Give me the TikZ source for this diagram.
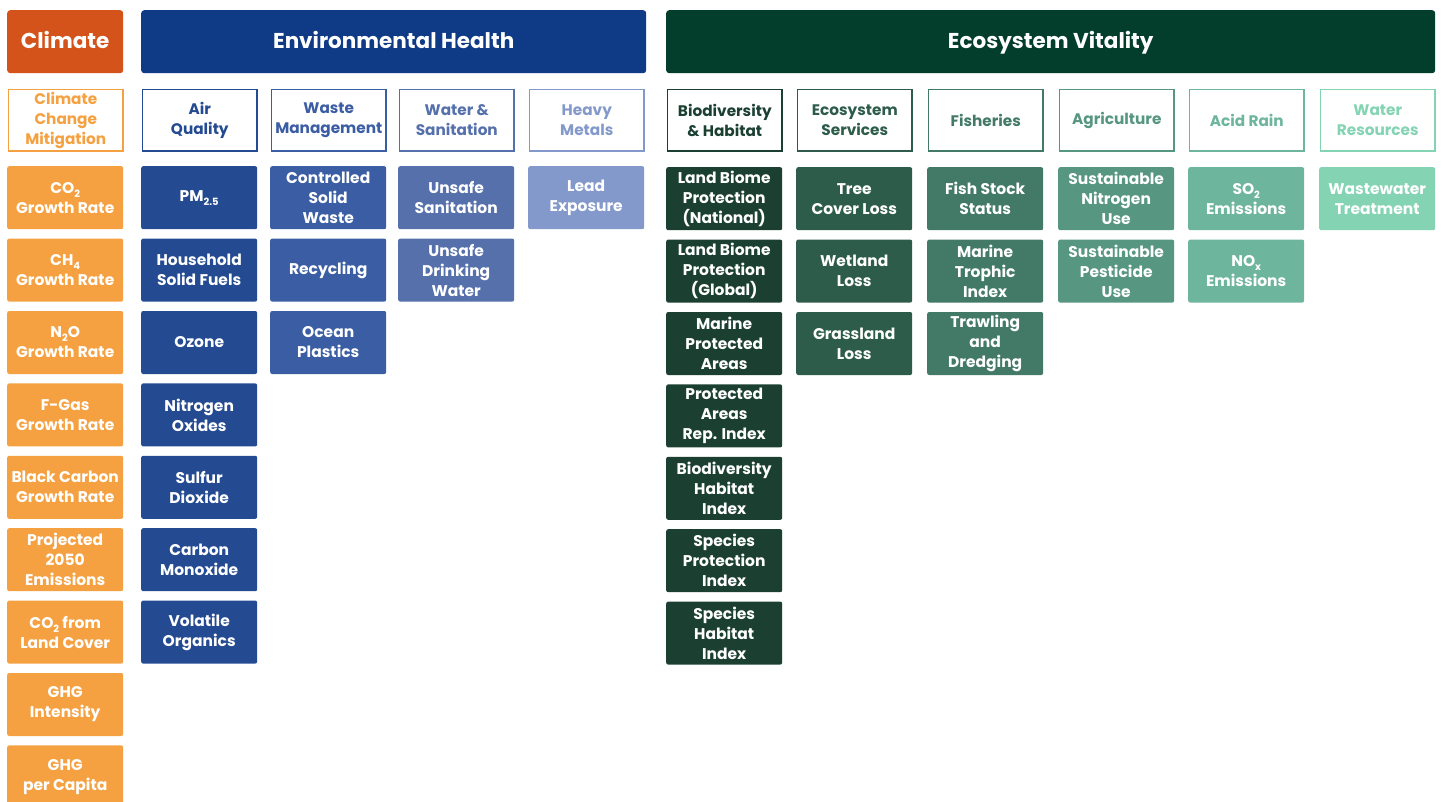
\documentclass[tikz,border=0pt]{standalone}
\usepackage{fontspec}
\setmainfont{Poppins}
\definecolor{climH}{HTML}{D4531A}
\definecolor{climT}{HTML}{F5A142}
\definecolor{envH}{HTML}{0F3A85}
\definecolor{airC}{HTML}{244A91}
\definecolor{wasteC}{HTML}{3B5DA3}
\definecolor{waterC}{HTML}{5570AB}
\definecolor{metalC}{HTML}{8499CB}
\definecolor{ecoH}{HTML}{033D2B}
\definecolor{bioC}{HTML}{1B4032}
\definecolor{servC}{HTML}{2E5C4B}
\definecolor{fishC}{HTML}{437A67}
\definecolor{agriC}{HTML}{579680}
\definecolor{acidC}{HTML}{6DB59C}
\definecolor{wresC}{HTML}{84D4B3}
\newcommand\lowidx[1]{\raisebox{-0.45ex}{\fontsize{10}{10}\selectfont #1}}
\tikzset{
  hdr/.style={anchor=north west, fill=#1, rounded corners=3pt, minimum height=63pt, text=white, inner sep=0pt, text height=16pt, text depth=3pt, font=\bfseries\fontsize{21.5}{25}\selectfont},
  cat/.style={anchor=north west, draw=#1, line width=1.6pt, fill=white, text=#1, minimum width=114.4pt, minimum height=61.4pt, inner sep=0pt, align=center, font=\bfseries\fontsize{15.3}{19.8}\selectfont},
  tile/.style={anchor=north west, fill=#1, rounded corners=2pt, text=white, minimum width=116pt, minimum height=63pt, inner sep=0pt, align=center, font=\bfseries\fontsize{15.5}{20}\selectfont}
}
\begin{document}
\begin{tikzpicture}[x=1pt,y=-1pt]
\useasboundingbox (0,0) rectangle (1442,802);
\clip (0,0) rectangle (1442,802);
% headers
\node[hdr=climH, minimum width=116pt] (hClimate) at (7,10) {Climate};
\node[hdr=envH, minimum width=505pt] (hEnv) at (141,10) {Environmental Health};
\node[hdr=ecoH, minimum width=769pt] (hEco) at (666,10) {Ecosystem Vitality};
% categories
\node[cat=climT] (cClim) at (7.8,88.8) {Climate\\Change\\Mitigation};
\node[cat=airC] (cAir) at (141.8,88.8) {Air\\Quality};
\node[cat=wasteC] (cWaste) at (270.8,88.8) {Waste\\Management};
\node[cat=waterC] (cWater) at (398.8,88.8) {Water \&\\Sanitation};
\node[cat=metalC] (cMetal) at (528.8,88.8) {Heavy\\Metals};
\node[cat=bioC] (cBio) at (666.8,88.8) {Biodiversity\\\& Habitat};
\node[cat=servC] (cServ) at (796.8,88.8) {Ecosystem\\Services};
\node[cat=fishC] (cFish) at (927.8,88.8) {Fisheries};
\node[cat=agriC] (cAgri) at (1058.8,88.8) {Agriculture};
\node[cat=acidC] (cAcid) at (1188.8,88.8) {Acid Rain};
\node[cat=wresC] (cWres) at (1319.8,88.8) {Water\\Resources};
% climate tiles
\node[tile=climT] (t01) at (7,166) {CO\lowidx{2}\\Growth Rate};
\node[tile=climT] (t02) at (7,238.4) {CH\lowidx{4}\\Growth Rate};
\node[tile=climT] (t03) at (7,310.8) {N\lowidx{2}O\\Growth Rate};
\node[tile=climT] (t04) at (7,383.2) {F-Gas\\Growth Rate};
\node[tile=climT] (t05) at (7,455.6) {Black Carbon\\Growth Rate};
\node[tile=climT] (t06) at (7,528) {Projected\\2050\\Emissions};
\node[tile=climT] (t07) at (7,600.4) {CO\lowidx{2} from\\Land Cover};
\node[tile=climT] (t08) at (7,672.8) {GHG\\Intensity};
\node[tile=climT] (t09) at (7,745.2) {GHG\\per Capita};
% air quality
\node[tile=airC] (t11) at (141,166) {PM\lowidx{2.5}};
\node[tile=airC] (t12) at (141,238.4) {Household\\Solid Fuels};
\node[tile=airC] (t13) at (141,310.8) {Ozone};
\node[tile=airC] (t14) at (141,383.2) {Nitrogen\\Oxides};
\node[tile=airC] (t15) at (141,455.6) {Sulfur\\Dioxide};
\node[tile=airC] (t16) at (141,528) {Carbon\\Monoxide};
\node[tile=airC] (t17) at (141,600.4) {Volatile\\Organics};
% waste
\node[tile=wasteC] (t21) at (270,166) {Controlled\\Solid\\Waste};
\node[tile=wasteC] (t22) at (270,238.4) {Recycling};
\node[tile=wasteC] (t23) at (270,310.8) {Ocean\\Plastics};
% water & sanitation
\node[tile=waterC] (t31) at (398,166) {Unsafe\\Sanitation};
\node[tile=waterC] (t32) at (398,238.4) {Unsafe\\Drinking\\Water};
% heavy metals
\node[tile=metalC] (t41) at (528,166) {Lead\\Exposure};
% biodiversity
\node[tile=bioC] (t51) at (666,167) {Land Biome\\Protection\\(National)};
\node[tile=bioC] (t52) at (666,239.4) {Land Biome\\Protection\\(Global)};
\node[tile=bioC] (t53) at (666,311.8) {Marine\\Protected\\Areas};
\node[tile=bioC] (t54) at (666,384.2) {Protected\\Areas\\Rep. Index};
\node[tile=bioC] (t55) at (666,456.6) {Biodiversity\\Habitat\\Index};
\node[tile=bioC] (t56) at (666,529) {Species\\Protection\\Index};
\node[tile=bioC] (t57) at (666,601.4) {Species\\Habitat\\Index};
% ecosystem services
\node[tile=servC] (t61) at (796,167) {Tree\\Cover Loss};
\node[tile=servC] (t62) at (796,239.4) {Wetland\\Loss};
\node[tile=servC] (t63) at (796,311.8) {Grassland\\Loss};
% fisheries
\node[tile=fishC] (t71) at (927,167) {Fish Stock\\Status};
\node[tile=fishC] (t72) at (927,239.4) {Marine\\Trophic\\Index};
\node[tile=fishC] (t73) at (927,311.8) {Trawling\\and\\Dredging};
% agriculture
\node[tile=agriC] (t81) at (1058,167) {Sustainable\\Nitrogen\\Use};
\node[tile=agriC] (t82) at (1058,239.4) {Sustainable\\Pesticide\\Use};
% acid rain
\node[tile=acidC] (t91) at (1188,167) {SO\lowidx{2}\\Emissions};
\node[tile=acidC] (t92) at (1188,239.4) {NO\lowidx{x}\\Emissions};
% water resources
\node[tile=wresC] (t101) at (1319,167) {Wastewater\\Treatment};
\end{tikzpicture}
\end{document}
